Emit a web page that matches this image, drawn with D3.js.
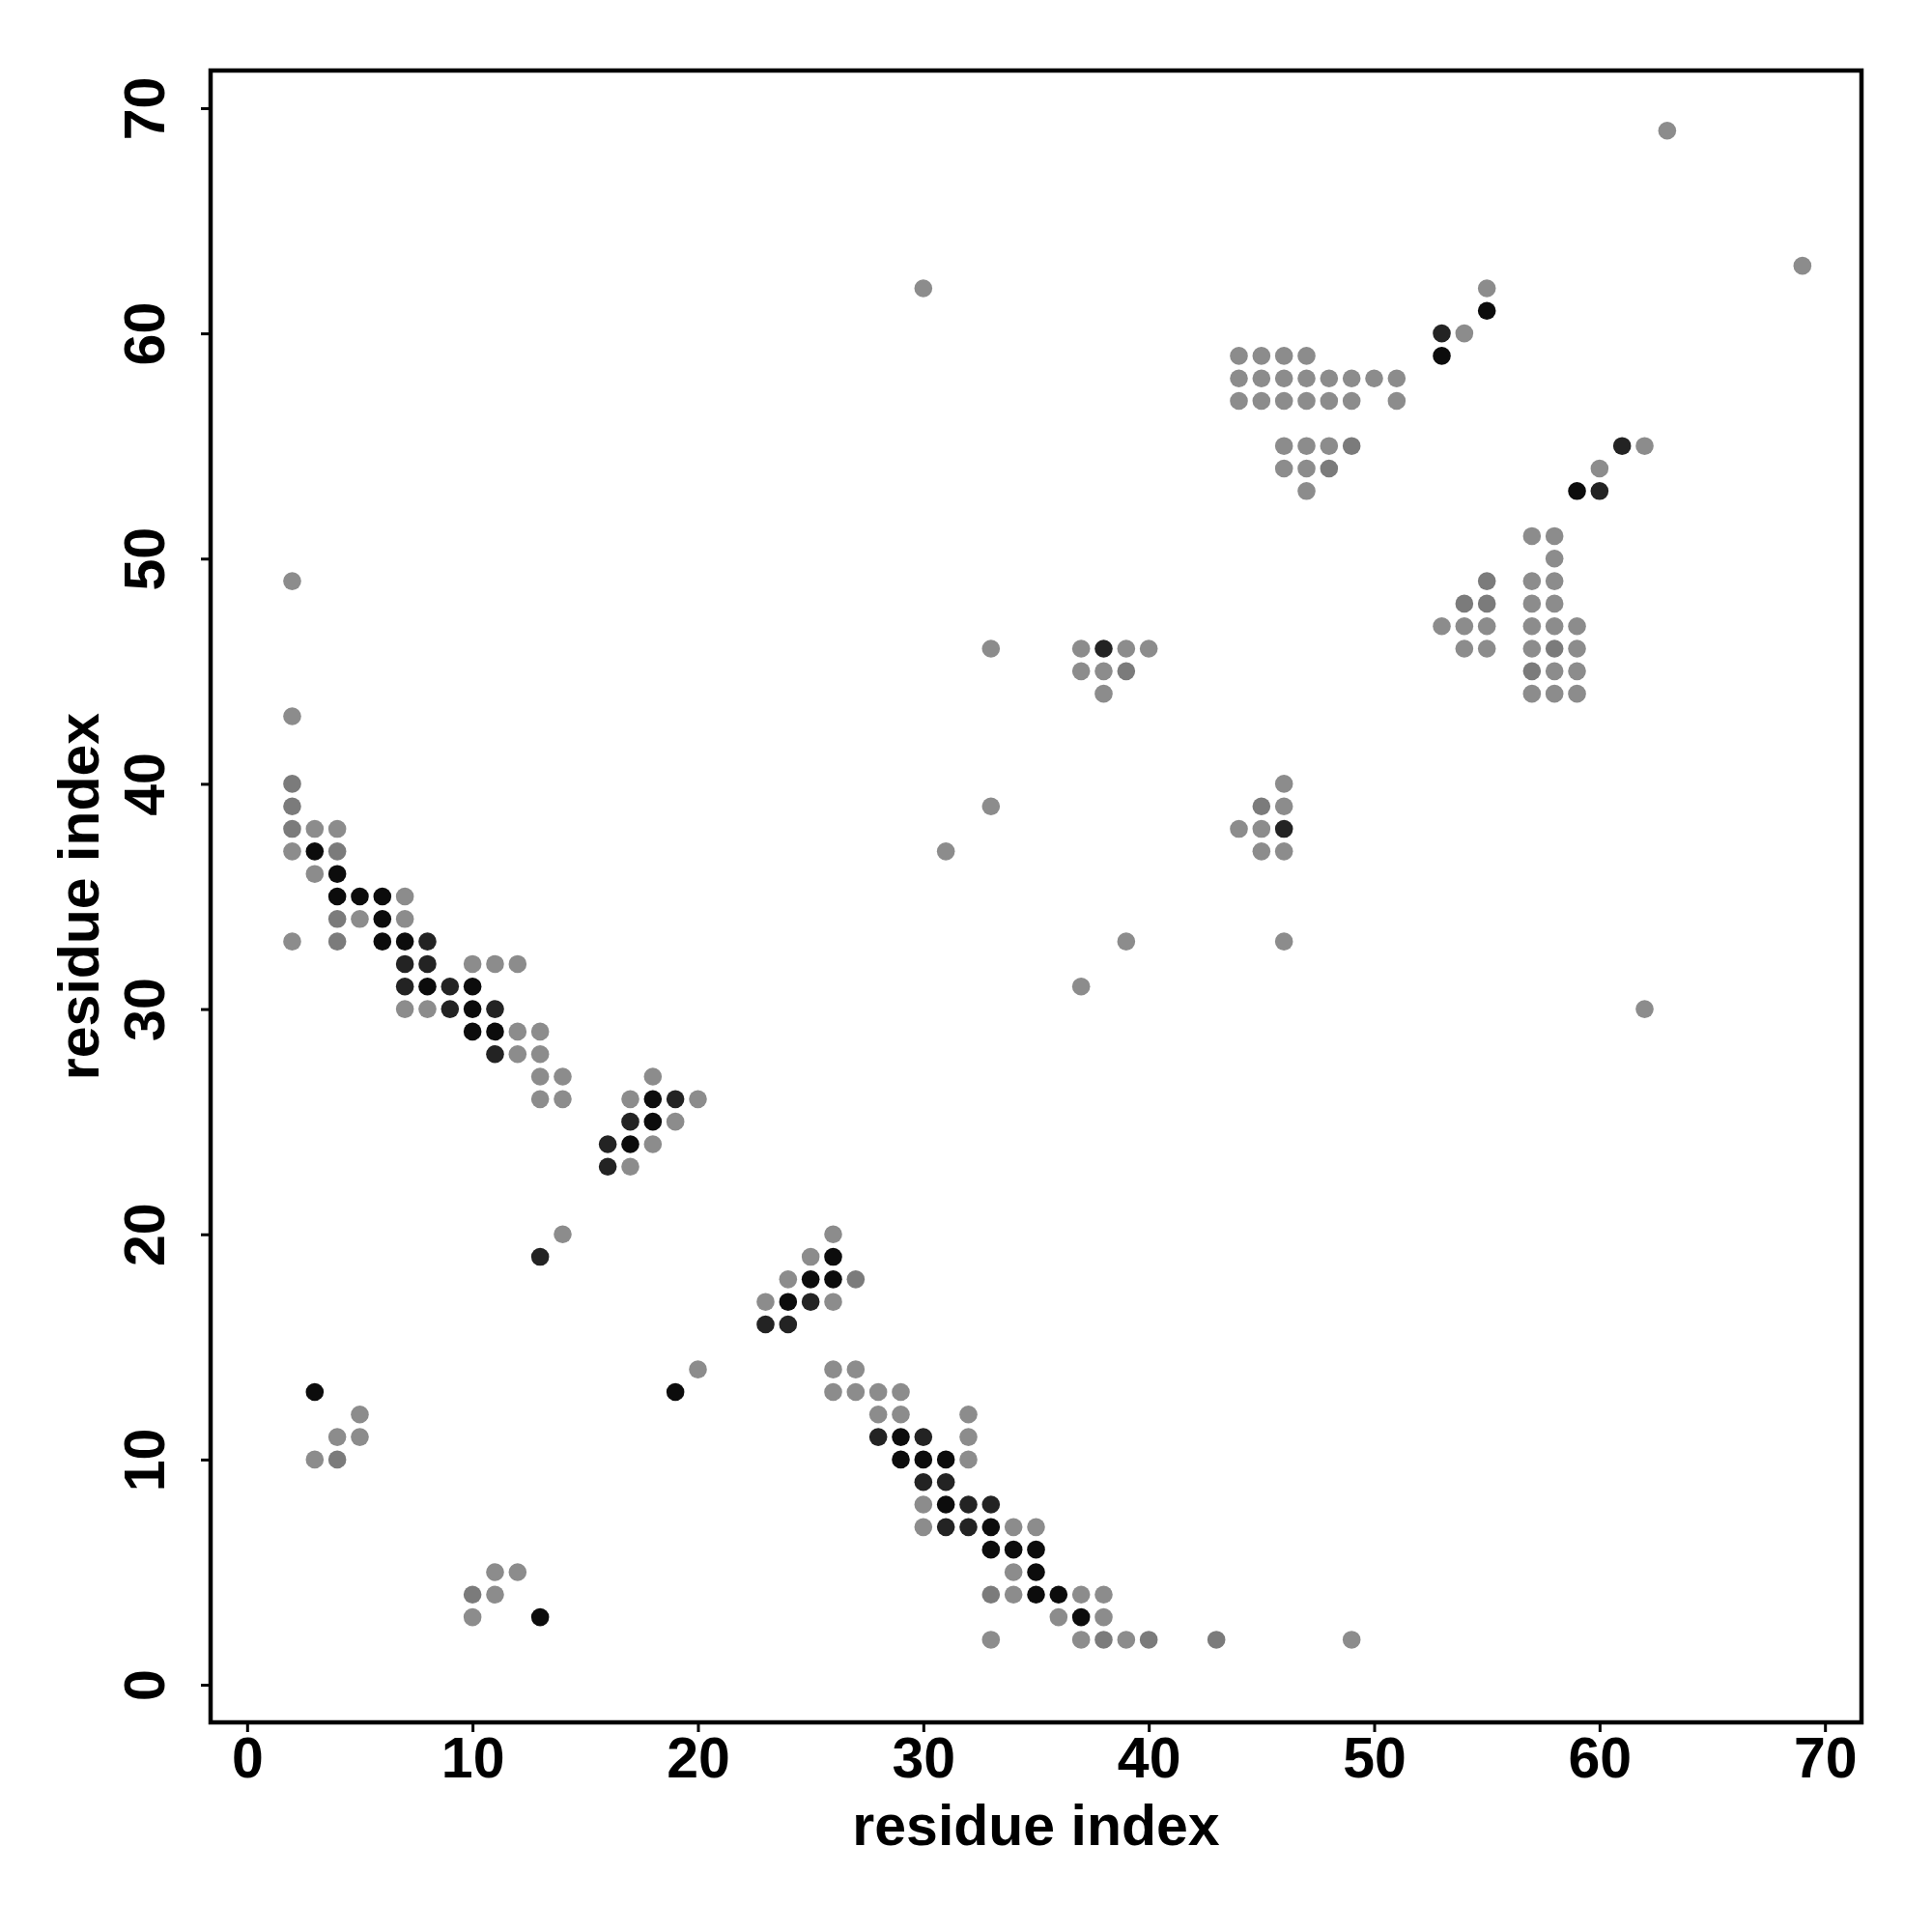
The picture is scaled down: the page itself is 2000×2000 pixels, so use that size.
<!DOCTYPE html>
<html>
<head>
<meta charset="utf-8">
<script src="https://cdn.jsdelivr.net/npm/d3@7"></script>
<style>
  html, body { margin: 0; padding: 0; background: #ffffff; }
  svg { display: block; }
</style>
</head>
<body>
<svg id="chart" width="2000" height="2000"></svg>
<script>
// ---- data: contact pairs [residue i, residue j], grouped by shade ----
const lightContacts = [
  [2,49],[2,43],[3,38],[4,38],[2,37],[3,36],[7,35],[5,34],[7,34],[2,33],
  [10,32],[11,32],[12,32],[7,30],[8,30],[12,29],[13,29],[12,28],[13,28],
  [13,27],[14,27],[18,27],[13,26],[14,26],[17,26],[20,26],[19,25],[18,24],
  [17,23],[14,20],[26,20],[25,19],[24,18],[23,17],[26,17],[5,12],[4,11],
  [5,11],[3,10],[20,14],[11,5],[12,5],[11,4],[10,3],
  [26,14],[27,14],[26,13],[27,13],[28,13],[29,13],[28,12],[29,12],[32,12],
  [32,11],[32,10],[30,8],[30,7],[34,7],[35,7],[34,5],[34,4],[37,4],[38,4],
  [36,3],[38,3],[33,2],[37,2],[39,2],[49,2],
  [55,62],[54,60],[44,59],[45,59],[46,59],[47,59],
  [44,58],[45,58],[46,58],[47,58],[48,58],[49,58],[50,58],[51,58],
  [44,57],[45,57],[46,57],[47,57],[48,57],[49,57],[51,57],
  [46,55],[47,55],[48,55],[46,54],[47,54],[47,53],[62,55],[60,54],
  [57,51],[58,51],[58,50],[57,49],[58,49],[57,48],[58,48],
  [53,47],[54,47],[55,47],[57,47],[58,47],[59,47],
  [54,46],[55,46],[57,46],[59,46],[58,45],[59,45],[57,44],[58,44],[59,44],
  [33,46],[37,46],[39,46],[40,46],[37,45],[38,45],[38,44],[46,40],[33,39],
  [46,39],[44,38],[45,38],[31,37],[45,37],[46,37],[39,33],[46,33],
  [30,62],[37,31],[62,30],[63,69],[69,63]
];
const midContacts = [
  [2,40],[2,39],[2,38],[4,37],[4,34],[4,33],[27,18],[4,10],[10,4],
  [33,4],[38,2],[40,2],[43,2],[49,55],[48,54],[55,49],[54,48],[55,48],
  [58,46],[57,45],[39,45],[45,39]
];
const darkContacts = [
  [8,33],[7,32],[8,32],[7,31],[9,31],[9,30],[11,30],[11,28],[19,26],
  [17,25],[16,24],[16,23],[13,19],[25,17],[23,16],[24,16],
  [28,11],[30,11],[30,9],[31,9],[32,8],[33,8],[31,7],[32,7],
  [53,60],[61,55],[60,53],[38,46],[46,38]
];
const blackContacts = [
  [3,37],[4,36],[4,35],[5,35],[6,35],[6,34],[6,33],[7,33],[8,31],[10,31],
  [10,30],[10,29],[11,29],[18,26],[18,25],[17,24],[26,19],[25,18],[26,18],
  [24,17],[3,13],[19,13],[13,3],[29,11],[29,10],[30,10],[31,10],[31,8],
  [33,7],[33,6],[34,6],[35,6],[35,5],[35,4],[36,4],[37,3],
  [55,61],[53,59],[59,53]
];
const tickValues = [0, 10, 20, 30, 40, 50, 60, 70];
const xTitle = "residue index";
const yTitle = "residue index";

// ---- layout ----
const svg = d3.select("#chart");
const frame = { left: 218, right: 1927, top: 73, bottom: 1783 };
const x = d3.scaleLinear().domain([-1.62, 71.62]).range([frame.left, frame.right]);
const y = d3.scaleLinear().domain([-1.67, 71.67]).range([frame.bottom, frame.top]);
const font = "'Liberation Sans', Arial, Helvetica, sans-serif";
const fontSize = 59;

const groups = [
  { data: lightContacts, color: "#8c8c8c" },
  { data: midContacts,   color: "#7b7b7b" },
  { data: darkContacts,  color: "#232323" },
  { data: blackContacts, color: "#0c0c0c" }
];

const pts = svg.append("g");
groups.forEach(g => {
  pts.selectAll(null)
    .data(g.data)
    .enter().append("circle")
    .attr("cx", d => x(d[0]))
    .attr("cy", d => y(d[1]))
    .attr("r", 9.3)
    .attr("fill", g.color);
});

// frame
svg.append("rect")
  .attr("x", frame.left).attr("y", frame.top)
  .attr("width", frame.right - frame.left)
  .attr("height", frame.bottom - frame.top)
  .attr("fill", "none").attr("stroke", "#000").attr("stroke-width", 4.5);

// x axis
const xAxis = svg.append("g")
  .attr("transform", `translate(0,${frame.bottom})`)
  .call(d3.axisBottom(x).tickValues(tickValues).tickSize(10).tickPadding(5).tickFormat(d3.format("d")));
xAxis.select(".domain").remove();
xAxis.selectAll("line").attr("stroke", "#000").attr("stroke-width", 3);
xAxis.selectAll("text")
  .attr("font-family", font).attr("font-size", fontSize).attr("font-weight", "bold")
  .attr("fill", "#000");

// y axis
const yAxis = svg.append("g")
  .attr("transform", `translate(${frame.left},0)`)
  .call(d3.axisLeft(y).tickValues(tickValues).tickSize(10).tickFormat(d3.format("d")));
yAxis.select(".domain").remove();
yAxis.selectAll("line").attr("stroke", "#000").attr("stroke-width", 3);
yAxis.selectAll("text")
  .attr("x", null).attr("dy", null)
  .attr("transform", "translate(-48,0) rotate(-90)")
  .attr("text-anchor", "middle")
  .attr("font-family", font).attr("font-size", fontSize).attr("font-weight", "bold")
  .attr("fill", "#000");

// titles
svg.append("text")
  .attr("x", (frame.left + frame.right) / 2).attr("y", 1910)
  .attr("text-anchor", "middle")
  .attr("font-family", font).attr("font-size", fontSize).attr("font-weight", "bold")
  .text(xTitle);
svg.append("text")
  .attr("transform", `translate(102,${(frame.top + frame.bottom) / 2}) rotate(-90)`)
  .attr("text-anchor", "middle")
  .attr("font-family", font).attr("font-size", fontSize).attr("font-weight", "bold")
  .text(yTitle);
</script>
</body>
</html>
